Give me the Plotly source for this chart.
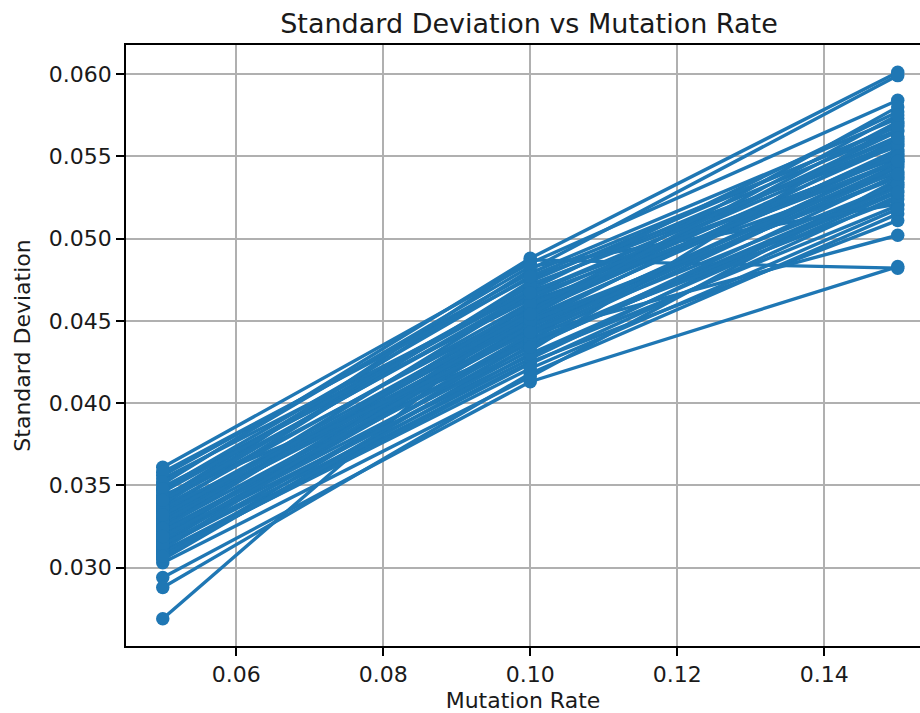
import plotly.graph_objects as go

# Mutation rates tested and the standard deviation measured in each run
mutation_rates = [0.05, 0.10, 0.15]

std_at_005 = [0.0333, 0.0312, 0.0347, 0.0269, 0.0325, 0.0351, 0.0318, 0.0340, 0.0306, 0.0356,
              0.0294, 0.0329, 0.0321, 0.0344, 0.0310, 0.0361, 0.0327, 0.0315, 0.0338, 0.0303,
              0.0349, 0.0323, 0.0288, 0.0335, 0.0319, 0.0354, 0.0308, 0.0331, 0.0342, 0.0316,
              0.0326, 0.0358, 0.0313, 0.0337, 0.0320, 0.0305, 0.0346, 0.0330, 0.0311, 0.0352,
              0.0322, 0.0339, 0.0317, 0.0334, 0.0309, 0.0343, 0.0328, 0.0314, 0.0348, 0.0324,
              0.0336, 0.0307, 0.0341, 0.0332, 0.0319]
std_at_010 = [0.0452, 0.0437, 0.0471, 0.0462, 0.0444, 0.0488, 0.0429, 0.0458, 0.0441, 0.0479,
              0.0413, 0.0466, 0.0448, 0.0436, 0.0425, 0.0485, 0.0455, 0.0446, 0.0487, 0.0416,
              0.0463, 0.0439, 0.0418, 0.0474, 0.0451, 0.0468, 0.0424, 0.0449, 0.0481, 0.0442,
              0.0459, 0.0476, 0.0427, 0.0461, 0.0453, 0.0435, 0.0469, 0.0444, 0.0457, 0.0483,
              0.0438, 0.0472, 0.0447, 0.0456, 0.0421, 0.0465, 0.0450, 0.0432, 0.0477, 0.0460,
              0.0443, 0.0430, 0.0467, 0.0454, 0.0434]
std_at_015 = [0.0551, 0.0532, 0.0566, 0.0540, 0.0548, 0.0601, 0.0520, 0.0557, 0.0545, 0.0573,
              0.0483, 0.0562, 0.0538, 0.0529, 0.0511, 0.0584, 0.0553, 0.0547, 0.0482, 0.0536,
              0.0559, 0.0543, 0.0515, 0.0569, 0.0554, 0.0549, 0.0526, 0.0560, 0.0599, 0.0502,
              0.0565, 0.0556, 0.0534, 0.0546, 0.0571, 0.0531, 0.0577, 0.0541, 0.0552, 0.0521,
              0.0524, 0.0558, 0.0544, 0.0580, 0.0518, 0.0550, 0.0537, 0.0570, 0.0568, 0.0547,
              0.0533, 0.0528, 0.0561, 0.0575, 0.0539]

# One polyline per run, separated by gaps so every run is drawn in the same colour
xs, ys = [], []
for a, b, c in zip(std_at_005, std_at_010, std_at_015):
    xs += mutation_rates + [None]
    ys += [a, b, c, None]

BLUE = "#1f77b4"
FONT = "DejaVu Sans"

fig = go.Figure(
    go.Scatter(
        x=xs, y=ys, mode="lines+markers",
        line=dict(color=BLUE, width=3.4),
        marker=dict(color=BLUE, size=13.5),
        connectgaps=False, showlegend=False,
    )
)

axis_common = dict(
    showgrid=True, gridcolor="#b0b0b0", gridwidth=1.8,
    showline=True, linecolor="black", linewidth=1.8,
    ticks="outside", ticklen=8, tickwidth=1.8, tickcolor="black",
    zeroline=False,
    tickfont=dict(family=FONT, size=22, color="#1a1a1a"),
)

fig.update_layout(
    width=920, height=713,
    margin=dict(l=126, r=0, t=45, b=67),
    paper_bgcolor="white", plot_bgcolor="white",
    font=dict(family=FONT, color="#1a1a1a"),
    title=dict(
        text="Standard Deviation vs Mutation Rate",
        font=dict(family=FONT, size=27, color="#1a1a1a"),
        x=529 / 920, xref="container", xanchor="center",
        y=1 - 24 / 713, yref="container", yanchor="middle",
    ),
    xaxis=dict(
        **axis_common,
        range=[0.045, 0.15303], mirror=True,
        tickvals=[0.06, 0.08, 0.10, 0.12, 0.14], tickformat=".2f",
        title=dict(text="Mutation Rate", font=dict(family=FONT, size=22), standoff=8),
    ),
    yaxis=dict(
        **axis_common,
        range=[0.02524, 0.06176], mirror=False,
        tickvals=[0.030, 0.035, 0.040, 0.045, 0.050, 0.055, 0.060], tickformat=".3f",
        title=dict(text="Standard Deviation", font=dict(family=FONT, size=22), standoff=12),
    ),
)

fig.write_html("out.html")
